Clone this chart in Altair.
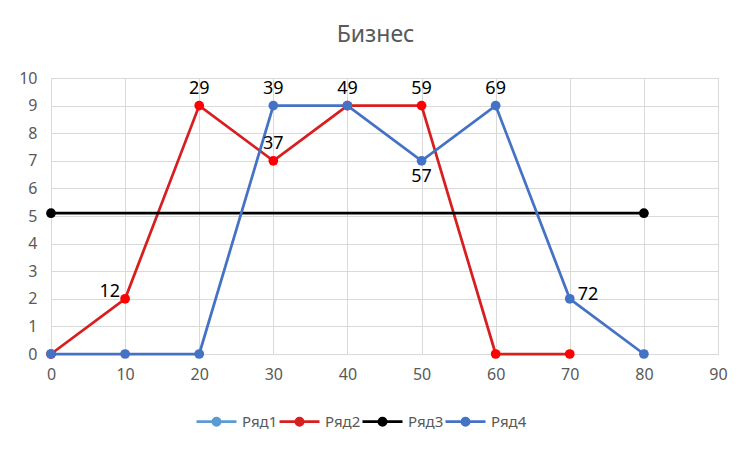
import altair as alt
import pandas as pd

FONT = "Noto Sans"
series_names = ["Ряд1", "Ряд2", "Ряд3", "Ряд4"]
line_colors = ["#5B9BD5", "#D81F1F", "#000000", "#4472C4"]
point_colors = ["#5B9BD5", "#FF0000", "#000000", "#4472C4"]

x_ticks = [0, 10, 20, 30, 40, 50, 60, 70, 80, 90]
y_ticks = [0, 1, 2, 3, 4, 5, 6, 7, 8, 9, 10]

r2_x = [0, 10, 20, 30, 40, 50, 60, 70]
r2_y = [0, 2, 9, 7, 9, 9, 0, 0]
r2_labels = [None, 12, 29, 37, None, 59, None, None]

r3_x = [0, 80]
r3_y = [5.1, 5.1]
r3_labels = [None, None]

r4_x = [0, 10, 20, 30, 40, 50, 60, 70, 80]
r4_y = [0, 0, 0, 9, 9, 7, 9, 2, 0]
r4_labels = [None, None, None, 39, 49, 57, 69, 72, None]

labels_above = [29, 37, 39, 49, 59, 69]
labels_below = [57]
labels_left = [12]
labels_right = [72]

rows = []
for name, xs, ys, labs in [("Ряд2", r2_x, r2_y, r2_labels),
                           ("Ряд3", r3_x, r3_y, r3_labels),
                           ("Ряд4", r4_x, r4_y, r4_labels)]:
    for i, (xv, yv, lb) in enumerate(zip(xs, ys, labs)):
        rows.append({"series": name, "x": xv, "y": yv, "idx": i,
                     "label": lb})
df = pd.DataFrame(rows)

axis_style = dict(title=None, labelFont=FONT, labelFontSize=16,
                  labelColor="#595959", domain=False, ticks=False,
                  grid=True, gridColor="#D9D9D9", gridWidth=1,
                  labelFlush=False)
X = alt.X("x:Q", scale=alt.Scale(domain=[0, 90], nice=False),
          axis=alt.Axis(values=x_ticks, labelPadding=12, **axis_style))
Y = alt.Y("y:Q", scale=alt.Scale(domain=[0, 10], nice=False),
          axis=alt.Axis(values=y_ticks, labelPadding=14, **axis_style))

# line through a dot drawn from strokes only (outer ring + inner dot)
legend_path = ("M-1,0H1"
               "M-0.18,0A0.18,0.18,0,1,1,0.18,0A0.18,0.18,0,1,1,-0.18,0"
               "M-0.06,0A0.06,0.06,0,1,1,0.06,0A0.06,0.06,0,1,1,-0.06,0")

base = alt.Chart(df)

lines = base.mark_line(strokeWidth=2.75).encode(
    x=X, y=Y,
    color=alt.Color("series:N",
                    scale=alt.Scale(domain=series_names, range=line_colors),
                    legend=alt.Legend(
                        title=" ", titleOrient="left", titlePadding=144,
                        titleFontSize=4,
                        orient="bottom", direction="horizontal", offset=18,
                        symbolType=legend_path, symbolSize=1600,
                        symbolStrokeWidth=2.75, labelFontSize=15,
                        labelFont=FONT, labelColor="#595959",
                        labelLimit=200,
                        labelOffset=4, columnPadding=-11)),
    order="idx:Q",
)

points = base.mark_circle(size=95, opacity=1).encode(
    x=X, y=Y,
    fill=alt.Fill("series:N",
                  scale=alt.Scale(domain=series_names, range=point_colors),
                  legend=None),
)

def text_layer(vals, **kw):
    return base.transform_filter(
        alt.FieldOneOfPredicate(field="label", oneOf=vals)
    ).mark_text(font=FONT, fontSize=18, color="#000000", **kw).encode(
        x=X, y=Y, text="label:Q")

t_above = text_layer(labels_above, dy=-17, align="center", baseline="middle")
t_below = text_layer(labels_below, dy=16, align="center", baseline="middle")
t_left = text_layer(labels_left, dx=-5, dy=-7, align="right", baseline="middle")
t_right = text_layer(labels_right, dx=8, dy=-4, align="left", baseline="middle")

chart = alt.layer(lines, points, t_above, t_below, t_left, t_right).resolve_scale(
    color="independent", fill="independent"
).properties(
    width=667, height=276,
    title=alt.Title("Бизнес", fontSize=23, font=FONT, color="#595959",
                    fontWeight="normal", offset=23, dx=-9),
    autosize="none",
    padding={"left": 43, "top": 70, "right": 20, "bottom": 80},
).configure_view(stroke=None).configure(
    background="white",
    style={"guide-label": {"fontSize": 15, "font": FONT, "fill": "#595959"}},
)

chart.save("out.html", embed_options={"renderer": "svg", "actions": False})
